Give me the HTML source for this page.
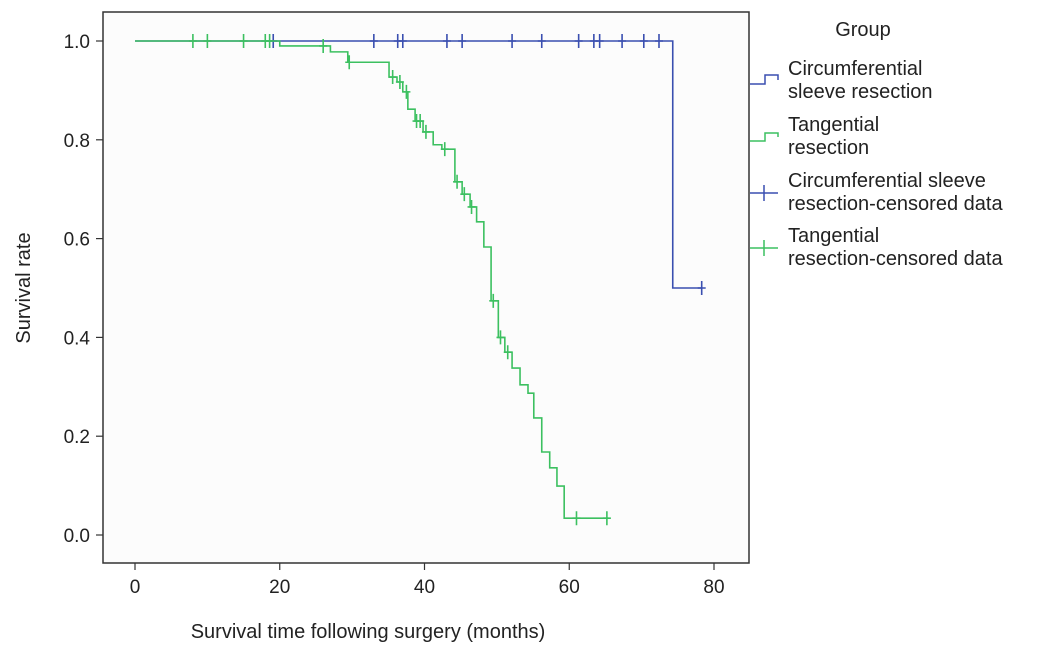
<!DOCTYPE html>
<html><head><meta charset="utf-8"><style>
body{margin:0;background:#fff;width:1063px;height:650px;overflow:hidden;font-family:"Liberation Sans",Arial,sans-serif}
</style></head><body>
<svg id="chart" width="1063" height="650" xmlns="http://www.w3.org/2000/svg" font-family="Liberation Sans, Arial, sans-serif">
<rect x="103" y="12" width="646" height="551" fill="#fcfcfc" stroke="#333" stroke-width="1.5"/>
<g id="axes"></g>
<g id="series"></g>
<text x="368" y="638" font-size="20" text-anchor="middle" fill="#222">Survival time following surgery (months)</text>
<text transform="translate(30,288) rotate(-90)" font-size="20" text-anchor="middle" fill="#222">Survival rate</text>
<g font-size="20" fill="#222">
<text x="863" y="36" text-anchor="middle">Group</text>
<path d="M750 84 H765 V75 H778 V80" stroke="#3a4fb0" stroke-width="1.5" fill="none"/>
<text><tspan x="788" y="75">Circumferential</tspan><tspan x="788" y="98">sleeve resection</tspan></text>
<path d="M750 141 H765 V133 H778 V137" stroke="#3cc060" stroke-width="1.5" fill="none"/>
<text><tspan x="788" y="131">Tangential</tspan><tspan x="788" y="154">resection</tspan></text>
<path d="M750 193 H778 M764 185 V201" stroke="#3a4fb0" stroke-width="1.5" fill="none"/>
<text><tspan x="788" y="187">Circumferential sleeve</tspan><tspan x="788" y="210">resection-censored data</tspan></text>
<path d="M750 248 H778 M764 240 V256" stroke="#3cc060" stroke-width="1.5" fill="none"/>
<text><tspan x="788" y="242">Tangential</tspan><tspan x="788" y="265">resection-censored data</tspan></text>
</g>
</svg>
<script>
const xTicks=[0,20,40,60,80];
const yTicks=[0.0,0.2,0.4,0.6,0.8,1.0];
const blueTimes=[0,74.3,78.3];
const blueSurv=[1.0,0.5,0.5];
const blueCensor=[19.1,33,36.3,37,43.1,45.2,52.1,56.2,61.3,63.4,64.2,67.3,70.3,72.4,78.3];
const greenTimes=[0,20,27,29.4,35.1,36.2,37,37.7,38.7,39.8,41.2,42.4,44.2,45.2,46.3,47.2,48.2,49.2,50.2,51.1,52.1,53.2,54.3,55.1,56.2,57.3,58.3,59.3,65.4];
const greenSurv=[1.0,0.99,0.978,0.957,0.927,0.917,0.897,0.862,0.838,0.816,0.79,0.781,0.715,0.69,0.664,0.634,0.583,0.474,0.40,0.37,0.338,0.304,0.287,0.237,0.168,0.136,0.099,0.034,0.034];
const greenCensor=[8,10,15,18,18.6,26,29.6,35.6,36.6,37.5,38.9,39.4,40.2,42.8,44.5,45.5,46.5,49.5,50.5,51.5,61,65.2];
const X=t=>135+t*7.2375, Y=s=>535-s*494;
const NS="http://www.w3.org/2000/svg";
function mk(tag,attrs,parent){const e=document.createElementNS(NS,tag);for(const k in attrs)e.setAttribute(k,attrs[k]);parent.appendChild(e);return e;}
const ax=document.getElementById('axes'), sr=document.getElementById('series');
xTicks.forEach(v=>{
  const l=mk('line',{x1:X(v),x2:X(v),y1:563,y2:570,stroke:'#333','stroke-width':1.2},ax);
  
  
  const t=mk('text',{x:X(v),y:593,'font-size':19,'text-anchor':'middle',fill:'#222'},ax);t.textContent=v;
  
  
});
yTicks.forEach(v=>{
  const l=mk('line',{x1:96,x2:103,y1:Y(v),y2:Y(v),stroke:'#333','stroke-width':1.2},ax);
  
  
  const t=mk('text',{x:90,y:Y(v)+7,'font-size':19,'text-anchor':'end',fill:'#222'},ax);t.textContent=v.toFixed(1);
  
  
});
function stepVal(ts,ss,t){let v=ss[0];for(let i=0;i<ts.length;i++){if(ts[i]<=t)v=ss[i];}return v;}
function drawSeries(ts,ss,cens,color,name){
  let d='M'+X(ts[0])+' '+Y(ss[0]);
  for(let i=1;i<ts.length;i++){d+=' H'+X(ts[i])+' V'+Y(ss[i]);}
  const p=mk('path',{d:d,stroke:color,'stroke-width':1.6,fill:'none'},sr);
  
  
  cens.forEach(t=>{
    const s=stepVal(ts,ss,t);
    const c=mk('path',{d:'M'+(X(t))+' '+(Y(s)-7)+' V'+(Y(s)+7)+' M'+(X(t)-4)+' '+Y(s)+' H'+(X(t)+4),stroke:color,'stroke-width':1.6,fill:'none'},sr);
    
    
  });
}
drawSeries(blueTimes,blueSurv,blueCensor,'#3a4fb0','circumferential');
drawSeries(greenTimes,greenSurv,greenCensor,'#3cc060','tangential');
</script>
</body></html>
